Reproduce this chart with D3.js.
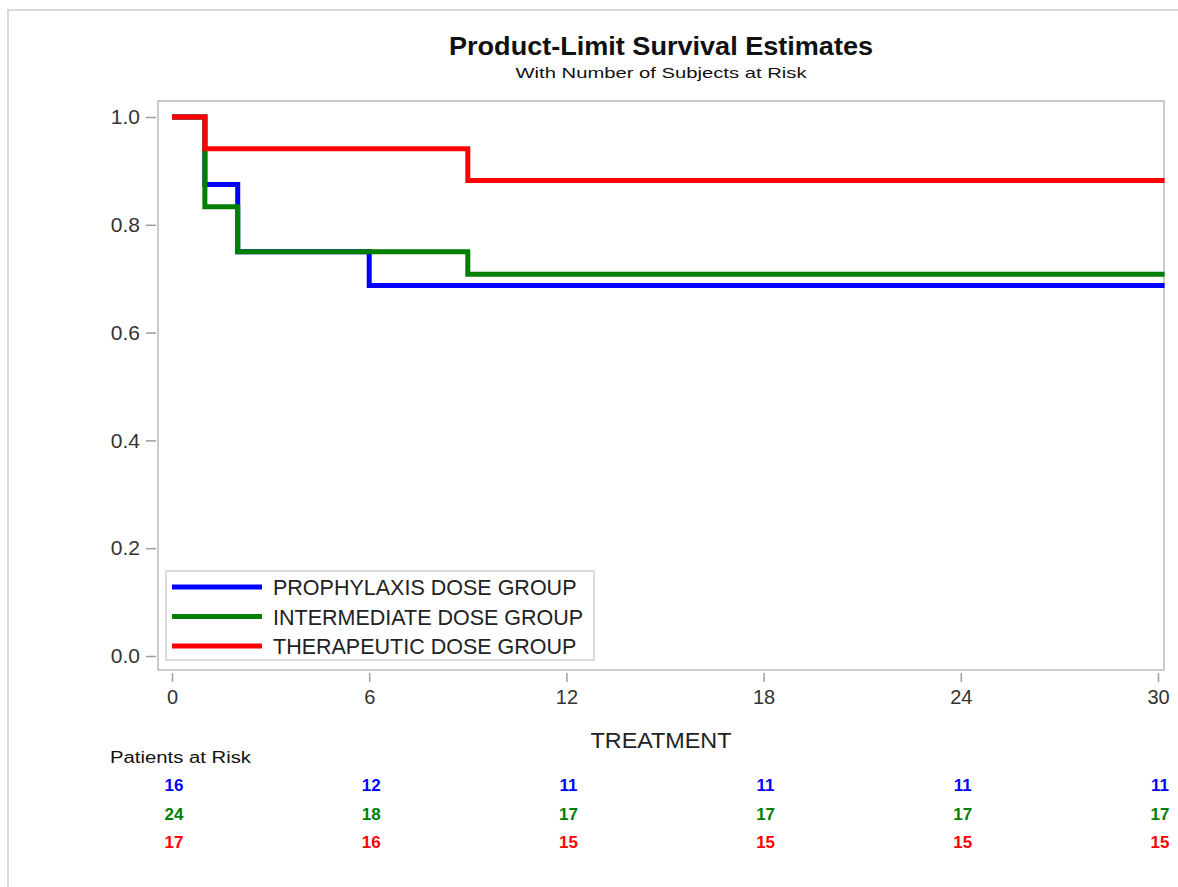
<!DOCTYPE html>
<html>
<head>
<meta charset="utf-8">
<script src="https://cdn.jsdelivr.net/npm/d3@7"></script>
<style>
  html, body { margin: 0; padding: 0; background: #fff; }
  svg { display: block; font-family: "Liberation Sans", Arial, sans-serif; }
</style>
</head>
<body>
<svg id="chart" width="1178" height="887"></svg>
<script>
// Kaplan-Meier step estimates per dose group: [time, survival]
const groups = ["PROPHYLAXIS DOSE GROUP", "INTERMEDIATE DOSE GROUP", "THERAPEUTIC DOSE GROUP"];
const colors = ["#0000ff", "#007f00", "#ff0000"];
const prophylaxisSteps = [[0, 1.0], [1, 0.875], [2, 0.75], [6, 0.6875], [30.2, 0.6875]];
const intermediateSteps = [[0, 1.0], [1, 0.8333], [2, 0.75], [9, 0.7083], [30.2, 0.7083]];
const therapeuticSteps = [[0, 1.0], [1, 0.9412], [9, 0.8824], [30.2, 0.8824]];
const xTicks = [0, 6, 12, 18, 24, 30];
const yTicks = [0.0, 0.2, 0.4, 0.6, 0.8, 1.0];
const atRiskProphylaxis = [16, 12, 11, 11, 11, 11];
const atRiskIntermediate = [24, 18, 17, 17, 17, 17];
const atRiskTherapeutic = [17, 16, 15, 15, 15, 15];

const stepSeries = [prophylaxisSteps, intermediateSteps, therapeuticSteps];
const atRisk = [atRiskProphylaxis, atRiskIntermediate, atRiskTherapeutic];

const svg = d3.select("#chart");
const frame = { left: 158, right: 1164, top: 101, bottom: 670 };

const x = d3.scaleLinear().domain([0, 30]).range([172, 1158]);
const y = d3.scaleLinear().domain([0, 1]).range([656, 117]);

// outer page border
svg.append("path")
  .attr("d", "M8,887 V10 H1178")
  .attr("fill", "none")
  .attr("stroke", "#d9d9d9")
  .attr("stroke-width", 2);

// titles
svg.append("text").attr("x", 661).attr("y", 55)
  .attr("text-anchor", "middle").attr("font-size", 25.5).attr("font-weight", "bold")
  .attr("fill", "#111").attr("textLength", 424).attr("lengthAdjust", "spacingAndGlyphs")
  .text("Product-Limit Survival Estimates");
svg.append("text").attr("x", 661).attr("y", 78)
  .attr("text-anchor", "middle").attr("font-size", 15)
  .attr("fill", "#111").attr("textLength", 291).attr("lengthAdjust", "spacingAndGlyphs")
  .text("With Number of Subjects at Risk");

// plot frame
svg.append("rect")
  .attr("x", frame.left).attr("y", frame.top)
  .attr("width", frame.right - frame.left).attr("height", frame.bottom - frame.top)
  .attr("fill", "#fff").attr("stroke", "#b8bcc0").attr("stroke-width", 1.5);

// y axis
const yAxis = d3.axisLeft(y).tickValues(yTicks).tickFormat(d3.format(".1f")).tickSize(10).tickPadding(6);
const gy = svg.append("g").attr("transform", `translate(${frame.left - 2},0)`).call(yAxis);
gy.select(".domain").remove();
gy.selectAll(".tick line").attr("stroke", "#9a9ea2").attr("stroke-width", 1.5);
gy.selectAll(".tick text").attr("font-size", 21).attr("fill", "#333")
  .attr("font-family", "Liberation Sans, Arial, sans-serif");

// x axis
const xAxis = d3.axisBottom(x).tickValues(xTicks).tickSize(9).tickPadding(8);
const gx = svg.append("g").attr("transform", `translate(0,${frame.bottom + 3})`).call(xAxis);
gx.select(".domain").remove();
gx.selectAll(".tick line").attr("stroke", "#9a9ea2").attr("stroke-width", 1.5);
gx.selectAll(".tick text").attr("font-size", 20).attr("fill", "#333")
  .attr("font-family", "Liberation Sans, Arial, sans-serif");

svg.append("text").attr("x", 661).attr("y", 748)
  .attr("text-anchor", "middle").attr("font-size", 22).attr("fill", "#222")
  .attr("textLength", 141).attr("lengthAdjust", "spacingAndGlyphs")
  .text("TREATMENT");

// survival step curves
const line = d3.line().x(d => x(d[0])).y(d => y(d[1])).curve(d3.curveStepAfter);
stepSeries.forEach((s, i) => {
  svg.append("path").datum(s)
    .attr("d", line)
    .attr("fill", "none")
    .attr("stroke", colors[i])
    .attr("stroke-width", 5)
    .attr("stroke-linejoin", "miter")
    .attr("stroke-linecap", "butt");
});

// legend
const legend = svg.append("g");
legend.append("rect")
  .attr("x", 166).attr("y", 571).attr("width", 428).attr("height", 89)
  .attr("fill", "#fff").attr("stroke", "#d0d0d0").attr("stroke-width", 1.5);
groups.forEach((g, i) => {
  const ly = 587 + i * 29.5;
  legend.append("line").attr("x1", 172).attr("x2", 262).attr("y1", ly).attr("y2", ly)
    .attr("stroke", colors[i]).attr("stroke-width", 5);
  legend.append("text").attr("x", 273).attr("y", ly + 8)
    .attr("font-size", 21.5).attr("fill", "#222")
    .text(g);
});

// number at risk table
svg.append("text").attr("x", 110).attr("y", 763)
  .attr("font-size", 16).attr("fill", "#111")
  .attr("textLength", 141).attr("lengthAdjust", "spacingAndGlyphs")
  .text("Patients at Risk");
atRisk.forEach((row, i) => {
  svg.append("g").selectAll("text").data(row).join("text")
    .attr("x", (d, j) => x(xTicks[j]) + 2)
    .attr("y", 791 + i * 28.5)
    .attr("text-anchor", "middle")
    .attr("font-size", 17).attr("font-weight", "bold")
    .attr("fill", colors[i])
    .text(d => d);
});
</script>
</body>
</html>
